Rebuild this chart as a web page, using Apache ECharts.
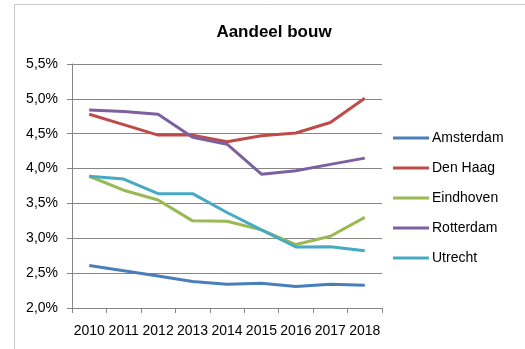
<!DOCTYPE html>
<html><head><meta charset="utf-8">
<script src="https://cdn.jsdelivr.net/npm/echarts@6/dist/echarts.min.js"></script>
<style>html,body{margin:0;padding:0;background:#fff}#c{width:525px;height:349px}</style>
</head><body><div id="c"></div>
<script>
const years = ['2010','2011','2012','2013','2014','2015','2016','2017','2018'];
const amsterdam = [2.61,2.535,2.46,2.38,2.34,2.355,2.31,2.34,2.325];
const denHaag = [4.78,4.63,4.48,4.48,4.385,4.47,4.51,4.66,5.01];
const eindhoven = [3.89,3.69,3.55,3.25,3.245,3.12,2.91,3.03,3.30];
const rotterdam = [4.84,4.82,4.78,4.45,4.35,3.92,3.97,4.06,4.15];
const utrecht = [3.89,3.85,3.64,3.64,3.37,3.12,2.875,2.88,2.82];
const names = ['Amsterdam','Den Haag','Eindhoven','Rotterdam','Utrecht'];
const colors = ['#4A7EBB','#BE4B48','#98B954','#7D60A0','#46AAC5'];
const seriesData = [amsterdam,denHaag,eindhoven,rotterdam,utrecht];
const font = 'Liberation Sans, Arial, sans-serif';
const chart = echarts.init(document.getElementById('c'));
chart.setOption({
  animation:false,
  color: colors,
  title:{text:'Aandeel bouw',left:269,top:19,textAlign:'center',
    textStyle:{fontFamily:font,fontSize:17,fontWeight:'bold',color:'#000'}},
  graphic:[{type:'rect',shape:{x:14.5,y:4.5,width:700,height:500},
    style:{fill:'none',stroke:'#c8c8c8',lineWidth:1},silent:true,z:-1}],
  legend:{orient:'vertical',left:388,top:126,itemWidth:36,itemHeight:3,itemGap:16,
    icon:'rect',
    textStyle:{fontFamily:font,fontSize:14,color:'#000',padding:[0,0,0,-2]},
    data:names},
  grid:{left:72,right:143,top:64,bottom:41,containLabel:false},
  xAxis:{type:'category',data:years,boundaryGap:true,
    axisLine:{lineStyle:{color:'#868686',width:1}},
    axisTick:{show:true,interval:0,length:5,lineStyle:{color:'#868686'}},
    axisLabel:{interval:0,margin:16,fontFamily:font,fontSize:14,color:'#000'},
    splitLine:{show:false}},
  yAxis:{type:'value',min:2,max:5.5,interval:0.5,
    axisLine:{show:true,lineStyle:{color:'#868686',width:1}},
    axisTick:{show:true,length:5,lineStyle:{color:'#868686'}},
    axisLabel:{margin:14,fontFamily:font,fontSize:14,color:'#000',
      formatter:v=>v.toFixed(1).replace('.',',')+'%'},
    splitLine:{lineStyle:{color:'#868686',width:1}}},
  series: seriesData.map((d,i)=>({name:names[i],type:'line',data:d,symbol:'none',
    lineStyle:{width:3,color:colors[i]},itemStyle:{color:colors[i]}}))
});
</script></body></html>
